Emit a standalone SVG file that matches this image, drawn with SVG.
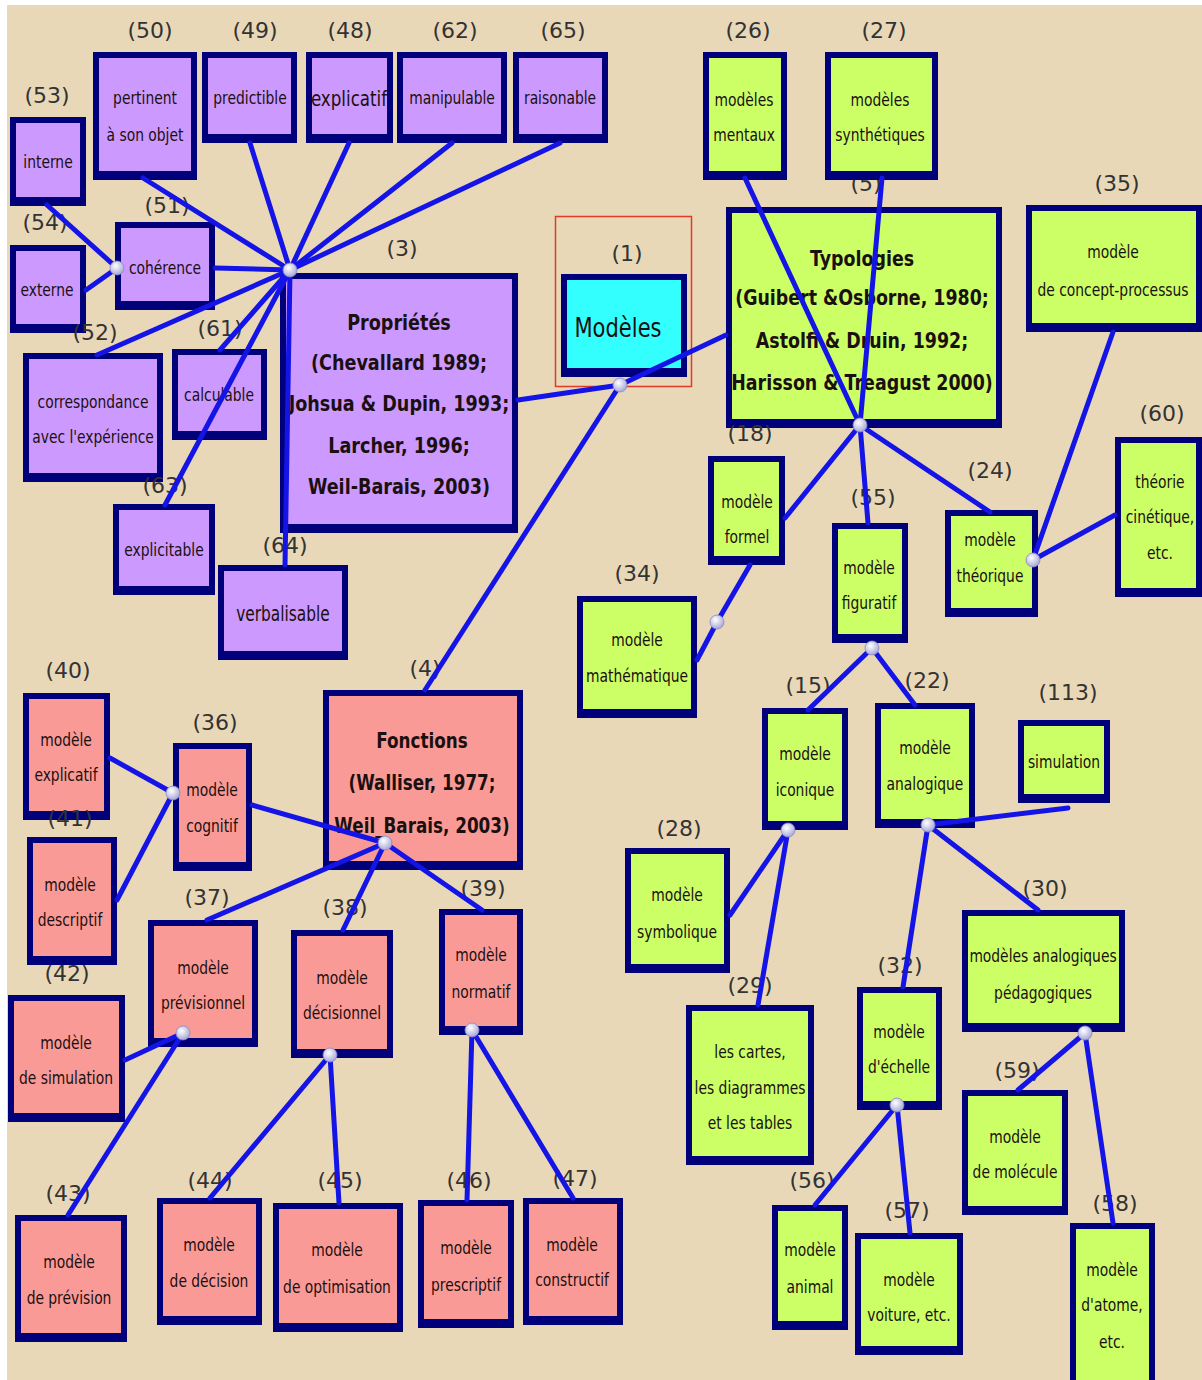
<svg xmlns="http://www.w3.org/2000/svg" width="1202" height="1380" viewBox="0 0 1202 1380">
<defs>
<radialGradient id="hg" cx="40%" cy="35%" r="65%">
<stop offset="0" stop-color="#ffffff"/>
<stop offset="1" stop-color="#a8a8d8"/>
</radialGradient>
<style>
.o{fill:#00007a}
.p .i{fill:#cc99ff}
.g .i{fill:#ccff66}
.r .i{fill:#fa9a96}
.c .i{fill:#33ffff}
text{font-family:"DejaVu Sans","Liberation Sans",sans-serif;fill:#1a1010;text-anchor:middle}
.t{font-size:18px}
.big{font-size:22px}
.h{font-size:22px;font-weight:bold}
.l{font-size:22px;fill:#333}
.cn line{stroke:#1414e6;stroke-width:5;stroke-linecap:round}
.hub{fill:url(#hg);stroke:#8888c8;stroke-width:0.8}
</style>
</defs>
<rect x="0" y="0" width="1202" height="1380" fill="#ffffff"/>
<rect x="7" y="5" width="1195" height="1375" fill="#e9d8b8"/>

<!-- purple nodes -->
<g id="n53" class="p"><rect class="o" x="10" y="117" width="76" height="89"/><rect class="i" x="16" y="123" width="64" height="74"/><text class="t" transform="translate(48 0) scale(.77 1)"><tspan x="0" y="168">interne</tspan></text><text class="l" x="47" y="103">(53)</text></g>
<g id="n50" class="p"><rect class="o" x="93" y="52" width="104" height="128"/><rect class="i" x="99" y="58" width="92" height="113"/><text class="t" transform="translate(145 0) scale(.77 1)"><tspan x="0" y="104">pertinent</tspan><tspan x="0" y="141">à son objet</tspan></text><text class="l" x="150" y="38">(50)</text></g>
<g id="n49" class="p"><rect class="o" x="202" y="52" width="95" height="91"/><rect class="i" x="208" y="58" width="83" height="76"/><text class="t" transform="translate(250 0) scale(.77 1)"><tspan x="0" y="104">predictible</tspan></text><text class="l" x="255" y="38">(49)</text></g>
<g id="n48" class="p"><rect class="o" x="306" y="52" width="87" height="91"/><rect class="i" x="312" y="58" width="75" height="76"/><text class="big" transform="translate(349 0) scale(.76 1)"><tspan x="0" y="106">explicatif</tspan></text><text class="l" x="350" y="38">(48)</text></g>
<g id="n62" class="p"><rect class="o" x="397" y="52" width="110" height="91"/><rect class="i" x="403" y="58" width="98" height="76"/><text class="t" transform="translate(452 0) scale(.77 1)"><tspan x="0" y="104">manipulable</tspan></text><text class="l" x="455" y="38">(62)</text></g>
<g id="n65" class="p"><rect class="o" x="513" y="52" width="95" height="91"/><rect class="i" x="519" y="58" width="83" height="76"/><text class="t" transform="translate(560 0) scale(.77 1)"><tspan x="0" y="104">raisonable</tspan></text><text class="l" x="563" y="38">(65)</text></g>
<g id="n51" class="p"><rect class="o" x="115" y="222" width="100" height="88"/><rect class="i" x="121" y="228" width="88" height="73"/><text class="t" transform="translate(165 0) scale(.77 1)"><tspan x="0" y="274">cohérence</tspan></text><text class="l" x="167" y="213">(51)</text></g>
<g id="n54" class="p"><rect class="o" x="10" y="245" width="76" height="88"/><rect class="i" x="16" y="251" width="64" height="73"/><text class="t" transform="translate(47 0) scale(.77 1)"><tspan x="0" y="296">externe</tspan></text><text class="l" x="45" y="230">(54)</text></g>
<g id="n52" class="p"><rect class="o" x="23" y="353" width="140" height="129"/><rect class="i" x="29" y="359" width="128" height="114"/><text class="t" transform="translate(93 0) scale(.77 1)"><tspan x="0" y="408">correspondance</tspan><tspan x="0" y="443">avec l'expérience</tspan></text><text class="l" x="95" y="340">(52)</text></g>
<g id="n61" class="p"><rect class="o" x="172" y="349" width="95" height="91"/><rect class="i" x="178" y="355" width="83" height="76"/><text class="t" transform="translate(219 0) scale(.77 1)"><tspan x="0" y="401">calculable</tspan></text><text class="l" x="220" y="336">(61)</text></g>
<g id="n63" class="p"><rect class="o" x="113" y="504" width="102" height="91"/><rect class="i" x="119" y="510" width="90" height="76"/><text class="t" transform="translate(164 0) scale(.77 1)"><tspan x="0" y="556">explicitable</tspan></text><text class="l" x="165" y="493">(63)</text></g>
<g id="n64" class="p"><rect class="o" x="218" y="565" width="130" height="95"/><rect class="i" x="224" y="571" width="118" height="80"/><text class="big" transform="translate(283 0) scale(.7 1)"><tspan x="0" y="621">verbalisable</tspan></text><text class="l" x="285" y="553">(64)</text></g>
<g id="n3" class="p"><rect class="o" x="280" y="273" width="238" height="260"/><rect class="i" x="286" y="279" width="226" height="245"/><text class="h" transform="translate(399 0) scale(.8 1)"><tspan x="0" y="330">Propriétés</tspan><tspan x="0" y="370">(Chevallard 1989;</tspan><tspan x="0" y="411">Johsua &amp; Dupin, 1993;</tspan><tspan x="0" y="453">Larcher, 1996;</tspan><tspan x="0" y="494">Weil-Barais, 2003)</tspan></text><text class="l" x="402" y="256">(3)</text></g>

<!-- central -->
<g id="n1" class="c"><rect x="555.5" y="216.5" width="136" height="170" fill="none" stroke="#e03a28" stroke-width="1.5"/><rect class="o" x="561" y="274" width="126" height="103"/><rect class="i" x="567" y="280" width="114" height="88"/><text transform="translate(618 0) scale(.78 1)" style="font-size:27px"><tspan x="0" y="337">Modèles</tspan></text><text class="l" x="627" y="261">(1)</text></g>

<!-- green nodes -->
<g id="n5" class="g"><rect class="o" x="726" y="207" width="276" height="221"/><rect class="i" x="732" y="213" width="264" height="206"/><text class="h" style="font-size:21px" transform="translate(862 0) scale(.83 1)"><tspan x="0" y="266">Typologies</tspan><tspan x="0" y="305">(Guibert &amp;Osborne, 1980;</tspan><tspan x="0" y="348">Astolfi &amp; Druin, 1992;</tspan><tspan x="0" y="390">Harisson &amp; Treagust 2000)</tspan></text><text class="l" x="866" y="191">(5)</text></g>
<g id="n26" class="g"><rect class="o" x="703" y="52" width="84" height="128"/><rect class="i" x="709" y="58" width="72" height="113"/><text class="t" transform="translate(744 0) scale(.77 1)"><tspan x="0" y="106">modèles</tspan><tspan x="0" y="141">mentaux</tspan></text><text class="l" x="748" y="38">(26)</text></g>
<g id="n27" class="g"><rect class="o" x="825" y="52" width="113" height="128"/><rect class="i" x="831" y="58" width="101" height="113"/><text class="t" transform="translate(880 0) scale(.77 1)"><tspan x="0" y="106">modèles</tspan><tspan x="0" y="141">synthétiques</tspan></text><text class="l" x="884" y="38">(27)</text></g>
<g id="n35" class="g"><rect class="o" x="1026" y="205" width="176" height="127"/><rect class="i" x="1032" y="211" width="164" height="112"/><text class="t" transform="translate(1113 0) scale(.77 1)"><tspan x="0" y="258">modèle</tspan><tspan x="0" y="296">de concept-processus</tspan></text><text class="l" x="1117" y="191">(35)</text></g>
<g id="n60" class="g"><rect class="o" x="1115" y="437" width="87" height="160"/><rect class="i" x="1121" y="443" width="75" height="145"/><text class="t" transform="translate(1160 0) scale(.77 1)"><tspan x="0" y="488">théorie</tspan><tspan x="0" y="523">cinétique,</tspan><tspan x="0" y="559">etc.</tspan></text><text class="l" x="1162" y="421">(60)</text></g>
<g id="n24" class="g"><rect class="o" x="945" y="510" width="93" height="107"/><rect class="i" x="951" y="516" width="81" height="92"/><text class="t" transform="translate(990 0) scale(.77 1)"><tspan x="0" y="546">modèle</tspan><tspan x="0" y="582">théorique</tspan></text><text class="l" x="990" y="478">(24)</text></g>
<g id="n18" class="g"><rect class="o" x="708" y="456" width="77" height="109"/><rect class="i" x="714" y="462" width="65" height="94"/><text class="t" transform="translate(747 0) scale(.77 1)"><tspan x="0" y="508">modèle</tspan><tspan x="0" y="543">formel</tspan></text><text class="l" x="750" y="441">(18)</text></g>
<g id="n55" class="g"><rect class="o" x="832" y="523" width="76" height="120"/><rect class="i" x="838" y="529" width="64" height="105"/><text class="t" transform="translate(869 0) scale(.77 1)"><tspan x="0" y="574">modèle</tspan><tspan x="0" y="609">figuratif</tspan></text><text class="l" x="873" y="505">(55)</text></g>
<g id="n34" class="g"><rect class="o" x="577" y="596" width="120" height="122"/><rect class="i" x="583" y="602" width="108" height="107"/><text class="t" transform="translate(637 0) scale(.77 1)"><tspan x="0" y="646">modèle</tspan><tspan x="0" y="682">mathématique</tspan></text><text class="l" x="637" y="581">(34)</text></g>
<g id="n15" class="g"><rect class="o" x="762" y="708" width="86" height="122"/><rect class="i" x="768" y="714" width="74" height="107"/><text class="t" transform="translate(805 0) scale(.77 1)"><tspan x="0" y="760">modèle</tspan><tspan x="0" y="796">iconique</tspan></text><text class="l" x="808" y="693">(15)</text></g>
<g id="n22" class="g"><rect class="o" x="875" y="703" width="100" height="125"/><rect class="i" x="881" y="709" width="88" height="110"/><text class="t" transform="translate(925 0) scale(.77 1)"><tspan x="0" y="754">modèle</tspan><tspan x="0" y="790">analogique</tspan></text><text class="l" x="927" y="688">(22)</text></g>
<g id="n113" class="g"><rect class="o" x="1018" y="720" width="92" height="83"/><rect class="i" x="1024" y="726" width="80" height="68"/><text class="t" transform="translate(1064 0) scale(.77 1)"><tspan x="0" y="768">simulation</tspan></text><text class="l" x="1068" y="700">(113)</text></g>
<g id="n28" class="g"><rect class="o" x="625" y="848" width="105" height="125"/><rect class="i" x="631" y="854" width="93" height="110"/><text class="t" transform="translate(677 0) scale(.77 1)"><tspan x="0" y="901">modèle</tspan><tspan x="0" y="938">symbolique</tspan></text><text class="l" x="679" y="836">(28)</text></g>
<g id="n29" class="g"><rect class="o" x="686" y="1005" width="128" height="160"/><rect class="i" x="692" y="1011" width="116" height="145"/><text class="t" transform="translate(750 0) scale(.77 1)"><tspan x="0" y="1058">les cartes,</tspan><tspan x="0" y="1094">les diagrammes</tspan><tspan x="0" y="1129">et les tables</tspan></text><text class="l" x="750" y="993">(29)</text></g>
<g id="n32" class="g"><rect class="o" x="857" y="987" width="85" height="123"/><rect class="i" x="863" y="993" width="73" height="108"/><text class="t" transform="translate(899 0) scale(.77 1)"><tspan x="0" y="1038">modèle</tspan><tspan x="0" y="1073">d'échelle</tspan></text><text class="l" x="900" y="973">(32)</text></g>
<g id="n30" class="g"><rect class="o" x="962" y="910" width="163" height="122"/><rect class="i" x="968" y="916" width="151" height="107"/><text class="t" transform="translate(1043 0) scale(.77 1)"><tspan x="0" y="962">modèles analogiques</tspan><tspan x="0" y="999">pédagogiques</tspan></text><text class="l" x="1045" y="896">(30)</text></g>
<g id="n59" class="g"><rect class="o" x="962" y="1090" width="106" height="125"/><rect class="i" x="968" y="1096" width="94" height="110"/><text class="t" transform="translate(1015 0) scale(.77 1)"><tspan x="0" y="1143">modèle</tspan><tspan x="0" y="1178">de molécule</tspan></text><text class="l" x="1017" y="1078">(59)</text></g>
<g id="n56" class="g"><rect class="o" x="772" y="1205" width="76" height="125"/><rect class="i" x="778" y="1211" width="64" height="110"/><text class="t" transform="translate(810 0) scale(.77 1)"><tspan x="0" y="1256">modèle</tspan><tspan x="0" y="1293">animal</tspan></text><text class="l" x="812" y="1188">(56)</text></g>
<g id="n57" class="g"><rect class="o" x="855" y="1233" width="108" height="122"/><rect class="i" x="861" y="1239" width="96" height="107"/><text class="t" transform="translate(909 0) scale(.77 1)"><tspan x="0" y="1286">modèle</tspan><tspan x="0" y="1321">voiture, etc.</tspan></text><text class="l" x="907" y="1218">(57)</text></g>
<g id="n58" class="g"><rect class="o" x="1070" y="1223" width="85" height="162"/><rect class="i" x="1076" y="1229" width="73" height="151"/><text class="t" transform="translate(1112 0) scale(.77 1)"><tspan x="0" y="1276">modèle</tspan><tspan x="0" y="1311">d'atome,</tspan><tspan x="0" y="1348">etc.</tspan></text><text class="l" x="1115" y="1211">(58)</text></g>

<!-- pink nodes -->
<g id="n40" class="r"><rect class="o" x="23" y="693" width="87" height="127"/><rect class="i" x="29" y="699" width="75" height="112"/><text class="t" transform="translate(66 0) scale(.77 1)"><tspan x="0" y="746">modèle</tspan><tspan x="0" y="781">explicatif</tspan></text><text class="l" x="68" y="678">(40)</text></g>
<g id="n41" class="r"><rect class="o" x="27" y="837" width="90" height="128"/><rect class="i" x="33" y="843" width="78" height="113"/><text class="t" transform="translate(70 0) scale(.77 1)"><tspan x="0" y="891">modèle</tspan><tspan x="0" y="926">descriptif</tspan></text><text class="l" x="70" y="826">(41)</text></g>
<g id="n36" class="r"><rect class="o" x="173" y="743" width="79" height="128"/><rect class="i" x="179" y="749" width="67" height="113"/><text class="t" transform="translate(212 0) scale(.77 1)"><tspan x="0" y="796">modèle</tspan><tspan x="0" y="832">cognitif</tspan></text><text class="l" x="215" y="730">(36)</text></g>
<g id="n4" class="r"><rect class="o" x="323" y="690" width="200" height="180"/><rect class="i" x="329" y="696" width="188" height="165"/><text class="h" style="font-size:21px" transform="translate(422 0) scale(.8 1)"><tspan x="0" y="748">Fonctions</tspan><tspan x="0" y="790">(Walliser, 1977;</tspan><tspan x="0" y="833">Weil_Barais, 2003)</tspan></text><text class="l" x="425" y="676">(4)</text></g>
<g id="n37" class="r"><rect class="o" x="148" y="920" width="110" height="127"/><rect class="i" x="154" y="926" width="98" height="112"/><text class="t" transform="translate(203 0) scale(.77 1)"><tspan x="0" y="974">modèle</tspan><tspan x="0" y="1009">prévisionnel</tspan></text><text class="l" x="207" y="905">(37)</text></g>
<g id="n38" class="r"><rect class="o" x="291" y="930" width="102" height="128"/><rect class="i" x="297" y="936" width="90" height="113"/><text class="t" transform="translate(342 0) scale(.77 1)"><tspan x="0" y="984">modèle</tspan><tspan x="0" y="1019">décisionnel</tspan></text><text class="l" x="345" y="915">(38)</text></g>
<g id="n39" class="r"><rect class="o" x="439" y="909" width="84" height="126"/><rect class="i" x="445" y="915" width="72" height="111"/><text class="t" transform="translate(481 0) scale(.77 1)"><tspan x="0" y="961">modèle</tspan><tspan x="0" y="998">normatif</tspan></text><text class="l" x="483" y="896">(39)</text></g>
<g id="n42" class="r"><rect class="o" x="8" y="995" width="117" height="127"/><rect class="i" x="14" y="1001" width="105" height="112"/><text class="t" transform="translate(66 0) scale(.77 1)"><tspan x="0" y="1049">modèle</tspan><tspan x="0" y="1084">de simulation</tspan></text><text class="l" x="67" y="981">(42)</text></g>
<g id="n43" class="r"><rect class="o" x="15" y="1215" width="112" height="127"/><rect class="i" x="21" y="1221" width="100" height="112"/><text class="t" transform="translate(69 0) scale(.77 1)"><tspan x="0" y="1268">modèle</tspan><tspan x="0" y="1304">de prévision</tspan></text><text class="l" x="68" y="1201">(43)</text></g>
<g id="n44" class="r"><rect class="o" x="157" y="1198" width="105" height="127"/><rect class="i" x="163" y="1204" width="93" height="112"/><text class="t" transform="translate(209 0) scale(.77 1)"><tspan x="0" y="1251">modèle</tspan><tspan x="0" y="1287">de décision</tspan></text><text class="l" x="210" y="1188">(44)</text></g>
<g id="n45" class="r"><rect class="o" x="273" y="1203" width="130" height="129"/><rect class="i" x="279" y="1209" width="118" height="114"/><text class="t" transform="translate(337 0) scale(.77 1)"><tspan x="0" y="1256">modèle</tspan><tspan x="0" y="1293">de optimisation</tspan></text><text class="l" x="340" y="1188">(45)</text></g>
<g id="n46" class="r"><rect class="o" x="418" y="1200" width="96" height="128"/><rect class="i" x="424" y="1206" width="84" height="113"/><text class="t" transform="translate(466 0) scale(.77 1)"><tspan x="0" y="1254">modèle</tspan><tspan x="0" y="1291">prescriptif</tspan></text><text class="l" x="469" y="1188">(46)</text></g>
<g id="n47" class="r"><rect class="o" x="523" y="1198" width="100" height="127"/><rect class="i" x="529" y="1204" width="88" height="112"/><text class="t" transform="translate(572 0) scale(.77 1)"><tspan x="0" y="1251">modèle</tspan><tspan x="0" y="1286">constructif</tspan></text><text class="l" x="575" y="1186">(47)</text></g>

<!-- connectors -->
<g id="connectors" class="cn">
<line x1="290" y1="270" x2="143" y2="178"/>
<line x1="290" y1="270" x2="250" y2="143"/>
<line x1="290" y1="270" x2="349" y2="143"/>
<line x1="290" y1="270" x2="452" y2="143"/>
<line x1="290" y1="270" x2="560" y2="143"/>
<line x1="290" y1="270" x2="215" y2="268"/>
<line x1="290" y1="270" x2="97" y2="355"/>
<line x1="290" y1="270" x2="220" y2="350"/>
<line x1="290" y1="270" x2="165" y2="505"/>
<line x1="290" y1="270" x2="285" y2="565"/>
<line x1="117" y1="268" x2="47" y2="205"/>
<line x1="117" y1="268" x2="86" y2="290"/>
<line x1="620" y1="385" x2="518" y2="400"/>
<line x1="620" y1="385" x2="726" y2="335"/>
<line x1="620" y1="385" x2="425" y2="690"/>
<line x1="860" y1="425" x2="745" y2="178"/>
<line x1="860" y1="425" x2="882" y2="178"/>
<line x1="860" y1="425" x2="785" y2="518"/>
<line x1="860" y1="425" x2="868" y2="523"/>
<line x1="860" y1="425" x2="990" y2="512"/>
<line x1="1033" y1="560" x2="1113" y2="332"/>
<line x1="1033" y1="560" x2="1115" y2="515"/>
<line x1="717" y1="622" x2="750" y2="565"/>
<line x1="717" y1="622" x2="697" y2="660"/>
<line x1="872" y1="648" x2="808" y2="710"/>
<line x1="872" y1="648" x2="915" y2="705"/>
<line x1="788" y1="830" x2="730" y2="915"/>
<line x1="788" y1="830" x2="758" y2="1005"/>
<line x1="928" y1="825" x2="1068" y2="808"/>
<line x1="928" y1="825" x2="1038" y2="910"/>
<line x1="928" y1="825" x2="903" y2="987"/>
<line x1="897" y1="1105" x2="815" y2="1205"/>
<line x1="897" y1="1105" x2="910" y2="1233"/>
<line x1="1085" y1="1033" x2="1018" y2="1090"/>
<line x1="1085" y1="1033" x2="1113" y2="1223"/>
<line x1="385" y1="843" x2="252" y2="805"/>
<line x1="385" y1="843" x2="207" y2="920"/>
<line x1="385" y1="843" x2="343" y2="930"/>
<line x1="385" y1="843" x2="482" y2="910"/>
<line x1="173" y1="793" x2="110" y2="758"/>
<line x1="173" y1="793" x2="117" y2="900"/>
<line x1="183" y1="1033" x2="125" y2="1060"/>
<line x1="183" y1="1033" x2="68" y2="1215"/>
<line x1="330" y1="1055" x2="210" y2="1198"/>
<line x1="330" y1="1055" x2="339" y2="1203"/>
<line x1="472" y1="1030" x2="467" y2="1200"/>
<line x1="472" y1="1030" x2="573" y2="1198"/>
<circle class="hub" cx="290" cy="270" r="7"/>
<circle class="hub" cx="117" cy="268" r="7"/>
<circle class="hub" cx="620" cy="385" r="7"/>
<circle class="hub" cx="860" cy="425" r="7"/>
<circle class="hub" cx="1033" cy="560" r="7"/>
<circle class="hub" cx="717" cy="622" r="7"/>
<circle class="hub" cx="872" cy="648" r="7"/>
<circle class="hub" cx="788" cy="830" r="7"/>
<circle class="hub" cx="928" cy="825" r="7"/>
<circle class="hub" cx="897" cy="1105" r="7"/>
<circle class="hub" cx="1085" cy="1033" r="7"/>
<circle class="hub" cx="385" cy="843" r="7"/>
<circle class="hub" cx="173" cy="793" r="7"/>
<circle class="hub" cx="183" cy="1033" r="7"/>
<circle class="hub" cx="330" cy="1055" r="7"/>
<circle class="hub" cx="472" cy="1030" r="7"/>
</g>
</svg>
